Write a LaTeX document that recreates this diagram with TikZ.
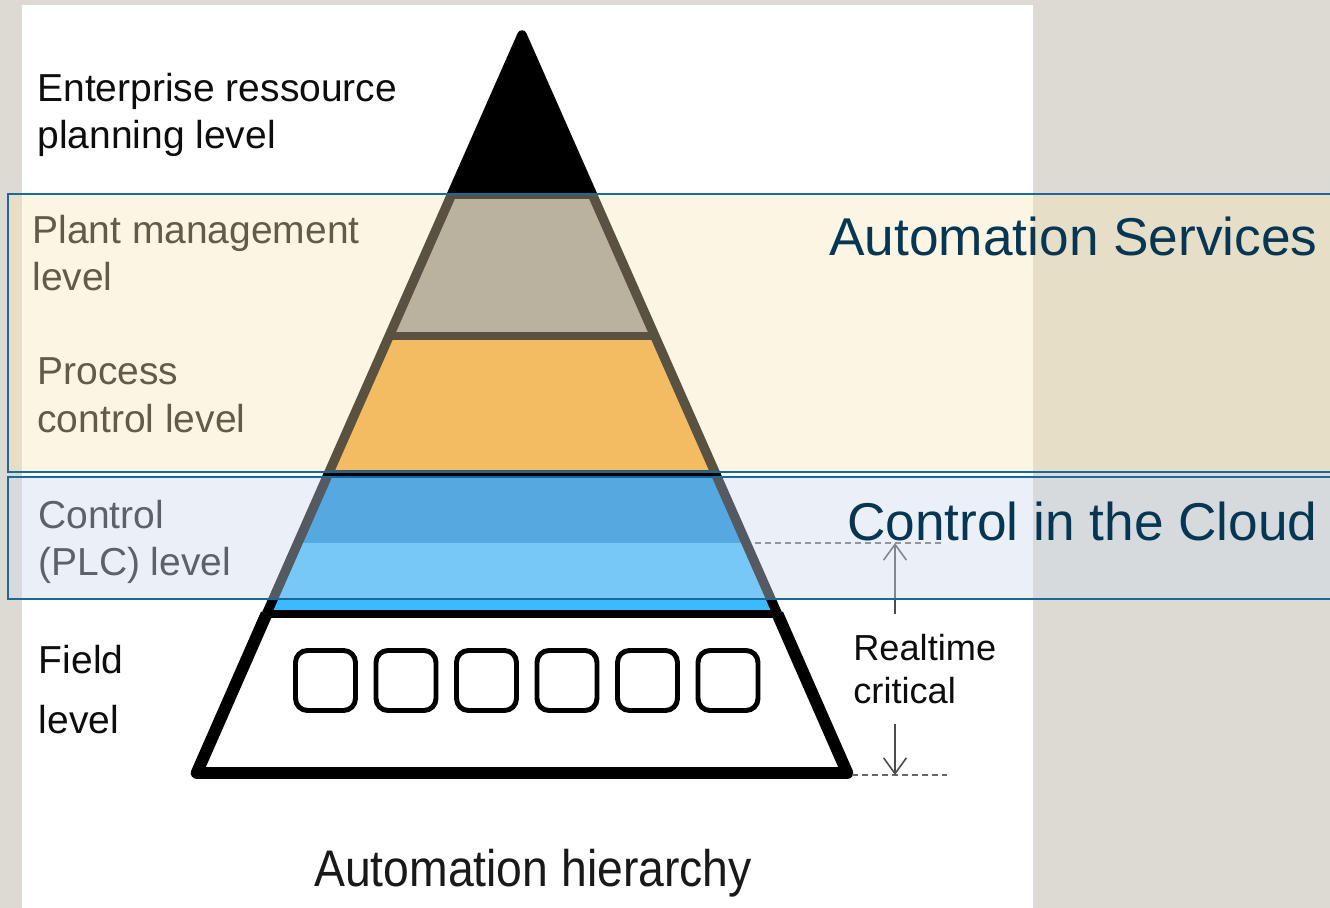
\documentclass[tikz,border=0pt]{standalone}
\usepackage{fontspec}
\setmainfont{Liberation Sans}
\usepackage{graphicx}
\usetikzlibrary{arrows.meta}

\definecolor{slidegrey}{RGB}{221,218,211}
\definecolor{plantgrey}{RGB}{150,150,147}
\definecolor{procorange}{RGB}{240,164,53}
\definecolor{plcdark}{RGB}{0,132,217}
\definecolor{plclight}{RGB}{59,186,255}
\definecolor{svcfill}{RGB}{250,230,178}
\definecolor{cloudfill}{RGB}{207,220,234}
\definecolor{bandline}{RGB}{25,105,155}
\definecolor{titleblue}{RGB}{5,55,85}

\begin{document}
\begin{tikzpicture}[x=0.02cm,y=-0.02cm]
        % Define styles for the picture
        \tikzstyle{lvltext}=[anchor=north west,inner sep=0pt,align=left,text=black!95,font=\fontsize{22.2}{27.2}\selectfont]
        \tikzstyle{bandtitle}=[anchor=base east,inner sep=0pt,text=titleblue,font=\fontsize{30.3}{36}\selectfont]
        \tikzstyle{devbox}=[draw,line width=2.8pt,rounded corners=6.8pt,minimum width=1.2cm,minimum height=1.2cm,inner sep=0pt]
        \tikzstyle{band}=[draw=bandline,line width=1.1pt]
        \tikzstyle{limit}=[draw=black!60,line width=1.3pt,dash pattern=on 3.4pt off 2.3pt]
        \tikzstyle{span}=[draw=black!70,line width=0.9pt,-{Straight Barb[length=9pt,width=13pt]}]

        % Slide background and white panel
        \useasboundingbox (0,0) rectangle (1330,908);
        \fill[slidegrey] (0,0) rectangle (1330,908);
        \fill[white] (22,5) rectangle (1033,908);

        % Fill the layers of the pyramid
        \fill[black] (522,32) -- (450,196) -- (594,196) -- cycle;
        \fill[plantgrey] (450,196) -- (388.5,336) -- (655.5,336) -- (594,196) -- cycle;
        \fill[procorange] (388.5,336) -- (328.4,473) -- (715.6,473) -- (655.5,336) -- cycle;
        \fill[plcdark] (328.4,473) -- (297.7,543) -- (746.3,543) -- (715.6,473) -- cycle;
        \fill[plclight] (297.7,543) -- (266.5,614) -- (777.5,614) -- (746.3,543) -- cycle;

        % Draw the outline and the layer borders
        \draw[line width=5.4pt,line join=round] (266.5,614) -- (522,35) -- (777.5,614);
        \draw[line width=3.4pt] (450,196) -- (594,196);
        \draw[line width=4.5pt] (388.5,336) -- (655.5,336);
        \draw[line width=3.4pt] (328.4,473) -- (715.6,473);
        \draw[line width=6.8pt,line join=round] (266.5,614) -- (196.7,773) -- (847.3,773) -- (777.5,614);
        \draw[line width=4.5pt] (266.5,614) -- (777.5,614);

        % Field devices
        \foreach \i in {0,...,5}
            \node[devbox] (dev\i) at ({325.5+80.5*\i},680.5) {};

        % Realtime critical span
        \coordinate (rtTop) at (895,543);
        \coordinate (rtBot) at (895,775);
        \coordinate (upFrom) at (895,614);
        \coordinate (downFrom) at (895,724);
        \draw[limit] (755,543) -- (945,543);
        \draw[limit] (852,775) -- (947,775);
        \draw[span] (upFrom) -- (rtTop);
        \draw[span] (downFrom) -- (rtBot);
        \node[lvltext,font=\fontsize{20.6}{24.4}\selectfont] (realtime) at (853,634) {Realtime\\critical};

        % Level labels
        \node[lvltext] (erp) at (37,72.4) {Enterprise ressource\\planning level};
        \node[lvltext] (plant) at (32,214.4) {Plant management\\level};
        \node[lvltext] (process) at (37,357.4) {Process\\control level};
        \node[lvltext] (plc) at (38,499.4) {Control\\(PLC) level};
        \node[lvltext] (field) at (38.5,644.4) {Field\\[7.4pt]level};
        \node[anchor=base,inner sep=0pt,text=black!90,font=\fontsize{29.3}{35}\selectfont] (caption) at (533,887) {\scalebox{0.9}[1]{Automation hierarchy}};

        % Translucent bands on top
        \draw[band,fill=svcfill,fill opacity=0.36] (8,194) rectangle (1345,472);
        \draw[band,fill=cloudfill,fill opacity=0.41] (8,477) rectangle (1345,599);
        \node[bandtitle] (services) at (1318,256) {Automation Services};
        \node[bandtitle] (cloud) at (1318,541) {Control in the Cloud};
\end{tikzpicture}
\end{document}
